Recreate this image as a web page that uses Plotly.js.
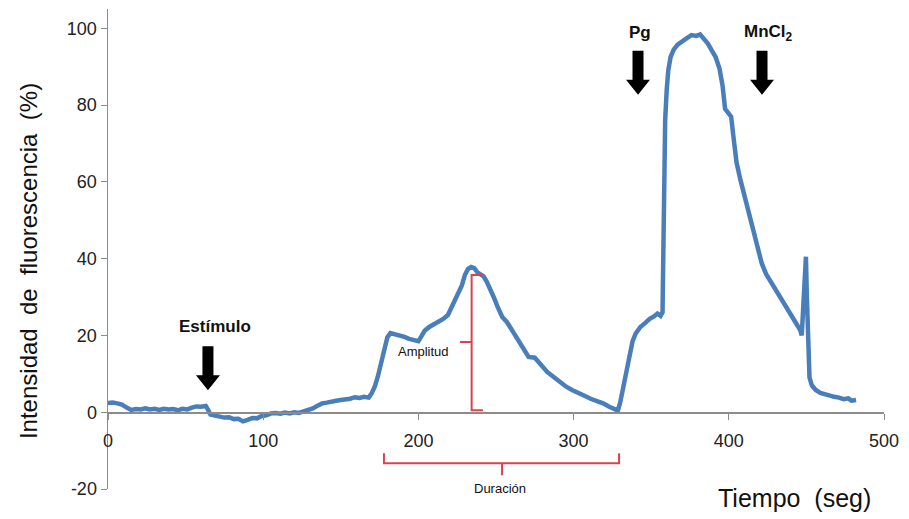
<!DOCTYPE html>
<html>
<head>
<meta charset="utf-8">
<script src="https://cdn.plot.ly/plotly-3.0.1.min.js"></script>
<style>html,body{margin:0;padding:0;background:#fff;}</style>
</head>
<body>
<div id="chart" style="width:909px;height:519px;"></div>
<script>
const tiempo = [0,3,6,9,12,15,18,21,24,27,30,33,36,39,42,45,48,51,54,57,60,63,64.5,66,69,72,75,78,81,84,87,90,93,96,99,102,105,108,111,114,117,120,123,126,129,132,135,138,141,144,147,150,153,156,159,162,165,168,170,172,174,176,178,180,182,185,188,191,194,197,200,202,204,207,210,213,216,219,222,225,228,230,232,234,236,238,240,242,244,246,248.5,251,254,257,261,265,268,271,275,279,283,287,291,295,299,303,307,311,315,319,323,326,328.5,330,332,334,336,338,340,343,346,349,352,354,356,357.3,357.8,358.5,359,360,361,362.5,364.5,367,370,373,376,379,381.5,384,386.5,389,391.5,394,396,397.6,399,401.5,403.5,405,407.5,410.4,413,415.8,418.5,421.2,424,427.6,431,434,437.3,440,443,446,447,448,449.7,450.3,451,452,453.5,456,459,462,465,468,471,474,477,479,482];
const intensidad = [2.4,2.5,2.3,2.0,1.2,0.6,0.8,0.7,1.0,0.7,0.9,0.6,0.9,0.7,0.8,0.5,0.9,0.7,1.2,1.5,1.4,1.6,0.6,-0.6,-0.9,-1.1,-1.4,-1.3,-1.8,-1.7,-2.4,-2.0,-1.5,-1.6,-1.0,-0.8,-0.3,-0.2,-0.4,-0.1,-0.3,0.0,-0.2,0.2,0.5,1.0,1.7,2.3,2.5,2.9,3.0,3.2,3.3,3.5,3.9,3.7,4.0,3.8,5.0,6.8,9.5,13,16.5,19.5,20.6,20.3,19.8,19.6,19.1,18.7,18.5,19.8,21.2,22.2,22.8,23.5,24.3,25.3,27.8,30.2,33.0,35.8,37.3,37.8,37.5,36.4,35.8,35.4,34.0,32.4,30.0,27.5,24.8,23.5,21.0,18.6,16.5,14.4,14.2,12.2,10.5,9.2,7.8,6.7,5.8,4.9,4.3,3.5,3.0,2.3,1.4,0.8,0.4,2.5,6.5,11,15,18.5,20.5,22.2,23.2,24.3,25.0,25.7,25.1,26,41,62,76,84,89,92.5,94.4,95.7,96.7,97.4,98.2,98.0,98.4,97.2,96.0,94.2,92.5,89.5,85,79,78.3,77,70,65,60.5,56.1,51.8,47.5,43,38.8,36,33.6,31.4,29.8,27.5,25.8,23.8,21.4,20,28,40.5,30,16,9,7.0,5.8,5.0,4.6,4.4,4.0,3.8,3.4,3.6,3.0,3.2];
const xTicks = [0,100,200,300,400,500];
const yTicks = [-20,0,20,40,60,80,100];
const yTitle = 'Intensidad\u00a0 de\u00a0 fluorescencia\u00a0 (%)';
const xTitle = 'Tiempo\u00a0 (seg)';
const marcadores = [
  {label:'Estímulo', t:64.4, v:5.7, lt:68.9, lv:22.2},
  {label:'Pg', t:341.5, v:82.7, lt:342.8, lv:98.8},
  {label:'MnCl<sub>2</sub>', t:421.4, v:82.7, lt:425.3, lv:98.8}
];
const font = 'Liberation Sans, Arial, sans-serif';
const red = '#d9434e';

const shapes = [];
marcadores.forEach(m => {
  shapes.push({type:'path', xref:'x', yref:'y', xsizemode:'pixel', ysizemode:'pixel',
    xanchor:m.t, yanchor:m.v,
    path:'M 0 0 L -12 15 L -5.5 15 L -5.5 44 L 5.5 44 L 5.5 15 L 12 15 Z',
    fillcolor:'#000', line:{width:0}});
});
shapes.push({type:'path', xref:'x', yref:'y',
  path:'M 241.6 35.7 L 234.3 35.7 L 234.3 0.5 L 241.6 0.5 M 234.3 18.25 L 226.8 18.25',
  line:{color:red, width:2}});
shapes.push({type:'path', xref:'x', yref:'y',
  path:'M 177.8 -10.7 L 177.8 -13.3 L 329.3 -13.3 L 329.3 -10.7 M 253.9 -13.3 L 253.9 -16.4',
  line:{color:red, width:2}});

const annotations = marcadores.map(m => ({x:m.lt, y:m.lv, xref:'x', yref:'y', text:'<b>'+m.label+'</b>',
  showarrow:false, xanchor:'center', yanchor:'middle', font:{family:font, size:17, color:'#111'}}));
annotations.push({x:203, y:15.9, xref:'x', yref:'y', text:'Amplitud', showarrow:false, xanchor:'center', yanchor:'middle', font:{family:font, size:13, color:'#111'}});
annotations.push({x:252.6, y:-19.8, xref:'x', yref:'y', text:'Duración', showarrow:false, xanchor:'center', yanchor:'middle', font:{family:font, size:13, color:'#111'}});
annotations.push({x:0.885, y:-0.019, xref:'paper', yref:'paper', text:xTitle, showarrow:false, xanchor:'center', yanchor:'middle', font:{family:font, size:25, color:'#111'}});
annotations.push({x:-0.103, y:0.475, xref:'paper', yref:'paper', text:yTitle, textangle:-90, showarrow:false, xanchor:'center', yanchor:'middle', font:{family:font, size:24, color:'#111'}});

const trace = {x:tiempo, y:intensidad, type:'scatter', mode:'lines',
  line:{color:'#4a7ebb', width:4.5}, hoverinfo:'skip'};

const layout = {
  width:909, height:519,
  margin:{l:108, r:25, t:9, b:30},
  paper_bgcolor:'#fff', plot_bgcolor:'#fff',
  showlegend:false,
  font:{family:font},
  xaxis:{range:[0,500], tickvals:xTicks, ticktext:xTicks.map(String), anchor:'free', position:0.16,
    showline:true, linecolor:'#8c8c8c', linewidth:1.5, ticks:'outside', ticklen:6, tickcolor:'#8c8c8c',
    showgrid:false, zeroline:false, ticklabelstandoff:6,
    tickfont:{family:font, size:18, color:'#222'}},
  yaxis:{range:[-20,105], tickvals:yTicks, ticktext:yTicks.map(String),
    showline:true, linecolor:'#8c8c8c', linewidth:1.5, ticks:'outside', ticklen:6, tickcolor:'#8c8c8c',
    showgrid:false, zeroline:false,
    tickfont:{family:font, size:18, color:'#222'}},
  shapes:shapes, annotations:annotations
};
Plotly.newPlot('chart', [trace], layout, {displayModeBar:false, staticPlot:true});
</script>
</body>
</html>
